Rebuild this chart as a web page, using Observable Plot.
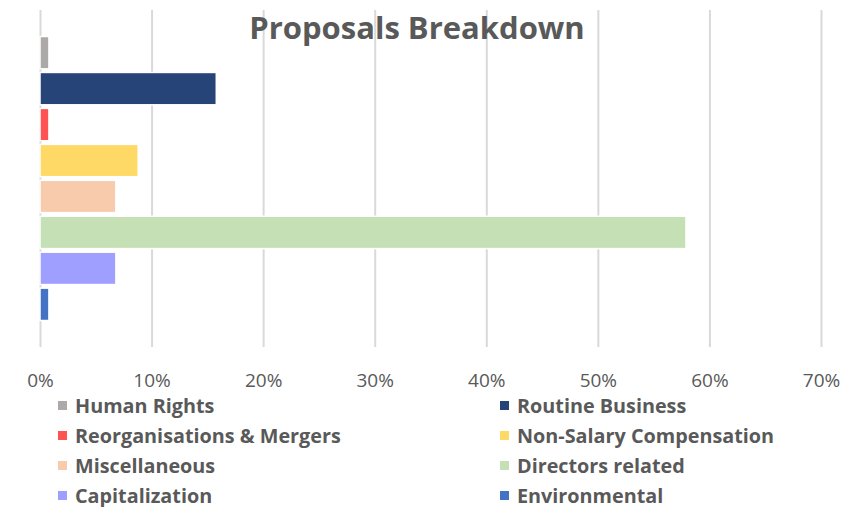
<!DOCTYPE html>
<html><head><meta charset="utf-8">
<script src="https://cdn.jsdelivr.net/npm/d3@7"></script>
<script src="https://cdn.jsdelivr.net/npm/@observablehq/plot@0.6"></script>
<style>
body{margin:0;background:#fff;font-family:"Open Sans",Lato,sans-serif;}
#wrap{position:relative;width:845px;height:507px;overflow:hidden;}
#legend{position:absolute;left:0;top:0;width:845px;height:507px;pointer-events:none;}
.item{position:absolute;display:flex;align-items:center;font-weight:bold;font-size:19.8px;color:#595959;white-space:nowrap;height:26px;}
.sw{width:9px;height:9px;margin-right:8px;flex:none;}
</style></head><body><div id="wrap"></div>
<script>
const categories = ["Human Rights","Routine Business","Reorganisations & Mergers","Non-Salary Compensation","Miscellaneous","Directors related","Capitalization","Environmental"];
const values = [0.008, 0.158, 0.008, 0.088, 0.068, 0.579, 0.068, 0.008];
const colors = ["#ADA9A9","#264478","#FF5252","#FFD966","#F8CBAD","#C5E0B4","#9F9FFF","#4472C4"];
const xTicks = [0,0.1,0.2,0.3,0.4,0.5,0.6,0.7];
const title = "Proposals Breakdown";

const data = categories.map((c,i)=>({category:c, value:values[i]}));

const chart = Plot.plot({
  width:845, height:395,
  marginLeft:40, marginRight:24, marginTop:10, marginBottom:48,
  style:{fontFamily:"'Open Sans', Lato, sans-serif", fontSize:"19px", color:"#595959", background:"white"},
  x:{domain:[0,0.7], axis:null, label:null},
  y:{domain:categories, range:[36.5,320.5], paddingInner:0.1, paddingOuter:0, round:false, axis:null},
  color:{domain:categories, range:colors},
  marks:[
    Plot.ruleX(xTicks, {stroke:"#d9d9d9", strokeWidth:2}),
    Plot.barX(data, {x:"value", y:"category", fill:"category", stroke:"white", strokeWidth:1.5}),
    Plot.axisX(xTicks, {label:null, tickSize:0, tickPadding:26, tickFormat:d3.format(".0%"), fill:"#595959", fontSize:19}),
    Plot.text([title], {frameAnchor:"top", dx:-14, dy:6, fontSize:31, fontWeight:"bold", fill:"#595959"})
  ]
});
const wrap = document.getElementById("wrap");
wrap.appendChild(chart);

const legend = document.createElement("div");
legend.id = "legend";
categories.forEach((c,i)=>{
  const col = i%2, row = Math.floor(i/2);
  const it = document.createElement("div");
  it.className = "item";
  it.style.left = (col ? 500 : 58) + "px";
  it.style.top = (392 + row*30) + "px";
  const sw = document.createElement("span");
  sw.className = "sw";
  sw.style.background = colors[i];
  const tx = document.createElement("span");
  tx.textContent = c;
  it.appendChild(sw); it.appendChild(tx);
  legend.appendChild(it);
});
wrap.appendChild(legend);
</script>
</body></html>
